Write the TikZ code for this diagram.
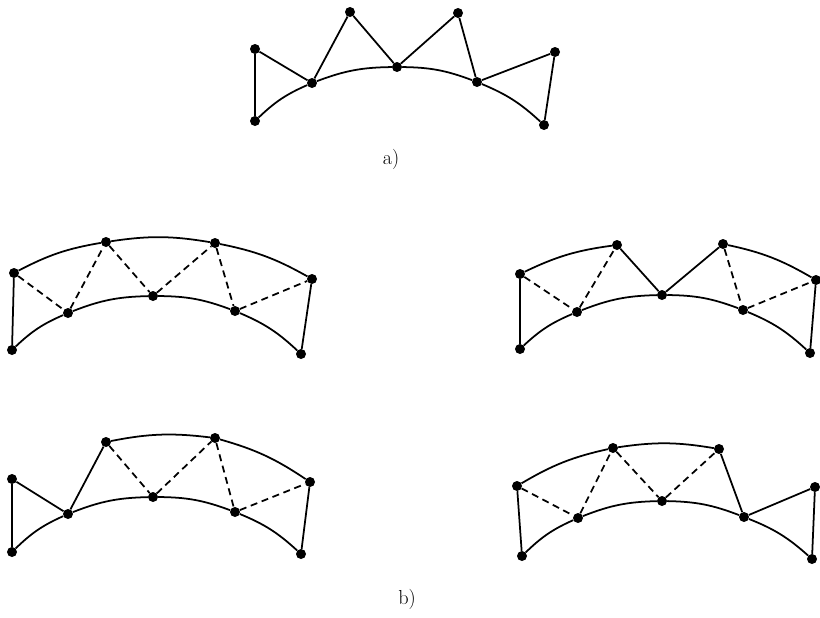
\documentclass[tikz,border=0pt]{standalone}
\usepackage{tikz}
\usetikzlibrary{positioning}

\tikzset{
  dot/.style={circle,fill=black,inner sep=0pt,minimum size=0.3cm},
  edge/.style={line width=1.5pt},
  dashedge/.style={line width=1.5pt,dash pattern=on 6pt off 4pt},
  lowarc/.style={line width=1.5pt,bend left=10},
  uparc/.style={line width=1.5pt,bend left=9},
}

\begin{document}
\begin{tikzpicture}[x=0.03cm,y=-0.03cm]
\useasboundingbox (0,0) rectangle (820,617);

% a)
\node[dot] (aLB) at (255,121) {};
\node[dot] (aLT) at (255,49) {};
\node[dot] (aI1) at (312,83) {};
\node[dot] (aP1) at (350,12) {};
\node[dot] (aC) at (397,67) {};
\node[dot] (aP2) at (458,13) {};
\node[dot] (aI3) at (477,82) {};
\node[dot] (aRT) at (555,52) {};
\node[dot] (aRB) at (544,125) {};
\draw[lowarc] (aLB) to (aI1);
\draw[lowarc] (aI1) to (aC);
\draw[lowarc] (aC) to (aI3);
\draw[lowarc] (aI3) to (aRB);
\draw[edge] (aLB) -- (aLT) -- (aI1) -- (aP1) -- (aC) -- (aP2) -- (aI3) -- (aRT) -- (aRB);
\node[font=\LARGE] (la) at (391,159) {a)};

% b) top left
\node[dot] (pLB) at (12,350) {};
\node[dot] (pLT) at (14,273) {};
\node[dot] (pI1) at (68,313) {};
\node[dot] (pT1) at (106,242) {};
\node[dot] (pC) at (153,296) {};
\node[dot] (pT2) at (215,243) {};
\node[dot] (pI3) at (235,311) {};
\node[dot] (pRT) at (312,279) {};
\node[dot] (pRB) at (301,354) {};
\draw[lowarc] (pLB) to (pI1);
\draw[lowarc] (pI1) to (pC);
\draw[lowarc] (pC) to (pI3);
\draw[lowarc] (pI3) to (pRB);
\draw[uparc] (pLT) to (pT1);
\draw[uparc] (pT1) to (pT2);
\draw[uparc] (pT2) to (pRT);
\draw[edge] (pLB) -- (pLT);
\draw[edge] (pRT) -- (pRB);
\draw[dashedge] (pLT) -- (pI1) -- (pT1) -- (pC) -- (pT2) -- (pI3) -- (pRT);

% b) top right
\node[dot] (qLB) at (520,349) {};
\node[dot] (qLT) at (520,274) {};
\node[dot] (qI1) at (577,312) {};
\node[dot] (qT1) at (617,245) {};
\node[dot] (qC) at (662,295) {};
\node[dot] (qT2) at (723,244) {};
\node[dot] (qI3) at (743,310) {};
\node[dot] (qRT) at (816,280) {};
\node[dot] (qRB) at (810,353) {};
\draw[lowarc] (qLB) to (qI1);
\draw[lowarc] (qI1) to (qC);
\draw[lowarc] (qC) to (qI3);
\draw[lowarc] (qI3) to (qRB);
\draw[uparc] (qLT) to (qT1);
\draw[uparc] (qT2) to (qRT);
\draw[edge] (qLB) -- (qLT);
\draw[edge] (qRT) -- (qRB);
\draw[edge] (qT1) -- (qC) -- (qT2);
\draw[dashedge] (qLT) -- (qI1) -- (qT1);
\draw[dashedge] (qT2) -- (qI3) -- (qRT);

% b) bottom left
\node[dot] (rLB) at (12,552) {};
\node[dot] (rLT) at (12,479) {};
\node[dot] (rI1) at (68,514) {};
\node[dot] (rT1) at (106,442) {};
\node[dot] (rC) at (153,497) {};
\node[dot] (rT2) at (215,438) {};
\node[dot] (rI3) at (235,512) {};
\node[dot] (rRT) at (310,482) {};
\node[dot] (rRB) at (301,554) {};
\draw[lowarc] (rLB) to (rI1);
\draw[lowarc] (rI1) to (rC);
\draw[lowarc] (rC) to (rI3);
\draw[lowarc] (rI3) to (rRB);
\draw[uparc] (rT1) to (rT2);
\draw[uparc] (rT2) to (rRT);
\draw[edge] (rLB) -- (rLT) -- (rI1) -- (rT1);
\draw[edge] (rRT) -- (rRB);
\draw[dashedge] (rT1) -- (rC) -- (rT2) -- (rI3) -- (rRT);

% b) bottom right
\node[dot] (sLB) at (522,556) {};
\node[dot] (sLT) at (517,486) {};
\node[dot] (sI1) at (578,518) {};
\node[dot] (sT1) at (613,448) {};
\node[dot] (sC) at (662,501) {};
\node[dot] (sT2) at (719,449) {};
\node[dot] (sI3) at (744,517) {};
\node[dot] (sRT) at (815,487) {};
\node[dot] (sRB) at (812,559) {};
\draw[lowarc] (sLB) to (sI1);
\draw[lowarc] (sI1) to (sC);
\draw[lowarc] (sC) to (sI3);
\draw[lowarc] (sI3) to (sRB);
\draw[uparc] (sLT) to (sT1);
\draw[uparc] (sT1) to (sT2);
\draw[edge] (sLB) -- (sLT);
\draw[edge] (sT2) -- (sI3) -- (sRT) -- (sRB);
\draw[dashedge] (sLT) -- (sI1) -- (sT1) -- (sC) -- (sT2);
\node[font=\LARGE] (lb) at (407,599) {b)};
\end{tikzpicture}
\end{document}
